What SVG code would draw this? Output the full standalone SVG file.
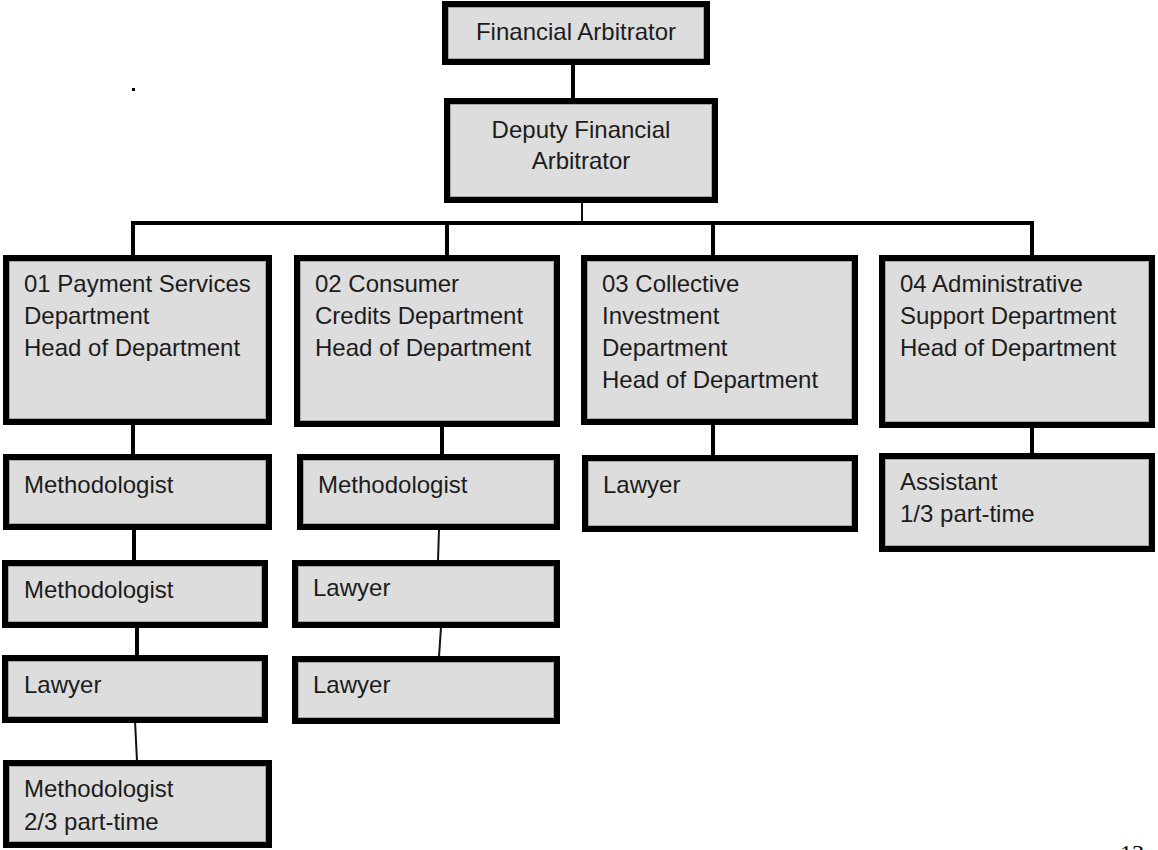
<svg xmlns="http://www.w3.org/2000/svg" width="1158" height="850" viewBox="0 0 1158 850">
<style>
.b{fill:#dddddd;stroke:#000;stroke-width:6}
.i{fill:none;stroke:#a6a6a6;stroke-width:1}
.t{font-family:"Liberation Sans",Arial,sans-serif;font-size:24px;fill:#1c1c1c}
.c{text-anchor:middle}
.k{stroke:#000;stroke-width:4;fill:none}
.h{stroke:#111;stroke-width:2;fill:none}
</style>
<rect width="1158" height="850" fill="#fff"/>
<g id="connectors">
<line class="k" x1="573" y1="64" x2="573" y2="99"/>
<line class="h" x1="582" y1="202" x2="582" y2="223"/>
<line class="k" x1="131" y1="223" x2="1034" y2="223"/>
<line class="k" x1="133" y1="221" x2="133" y2="256"/>
<line class="k" x1="447" y1="221" x2="447" y2="256"/>
<line class="k" x1="713" y1="221" x2="713" y2="256"/>
<line class="k" x1="1032" y1="221" x2="1032" y2="256"/>
<line class="k" x1="133" y1="424" x2="133" y2="455"/>
<line class="k" x1="134" y1="529" x2="134" y2="561"/>
<line class="k" x1="137" y1="624" x2="137" y2="656"/>
<line class="h" x1="135" y1="721" x2="137" y2="761"/>
<line class="k" x1="442" y1="426" x2="442" y2="455"/>
<line class="h" x1="439" y1="529" x2="438" y2="561"/>
<line class="h" x1="441" y1="627" x2="439" y2="657"/>
<line class="k" x1="713" y1="424" x2="713" y2="456"/>
<line class="k" x1="1032" y1="427" x2="1032" y2="454"/>
</g>
<g id="n-fa"><rect class="b" x="445" y="4" width="262" height="58"/><rect class="i" x="448.5" y="7.5" width="255" height="51"/><text class="t c" x="576" y="40">Financial Arbitrator</text></g>
<g id="n-deputy"><rect class="b" x="447" y="101" width="268" height="99"/><rect class="i" x="450.5" y="104.5" width="261" height="92"/><text class="t c" x="581" y="138">Deputy Financial</text><text class="t c" x="581" y="169">Arbitrator</text></g>
<g id="n-01"><rect class="b" x="6" y="258" width="263" height="164"/><rect class="i" x="9.5" y="261.5" width="256" height="157"/><text class="t" x="24" y="292">01 Payment Services</text><text class="t" x="24" y="324">Department</text><text class="t" x="24" y="356">Head of Department</text></g>
<g id="n-02"><rect class="b" x="297" y="258" width="260" height="166"/><rect class="i" x="300.5" y="261.5" width="253" height="159"/><text class="t" x="315" y="292">02 Consumer</text><text class="t" x="315" y="324">Credits Department</text><text class="t" x="315" y="356">Head of Department</text></g>
<g id="n-03"><rect class="b" x="584" y="258" width="271" height="164"/><rect class="i" x="587.5" y="261.5" width="264" height="157"/><text class="t" x="602" y="292">03 Collective</text><text class="t" x="602" y="324">Investment</text><text class="t" x="602" y="356">Department</text><text class="t" x="602" y="388">Head of Department</text></g>
<g id="n-04"><rect class="b" x="882" y="258" width="270" height="167"/><rect class="i" x="885.5" y="261.5" width="263" height="160"/><text class="t" x="900" y="292">04 Administrative</text><text class="t" x="900" y="324">Support Department</text><text class="t" x="900" y="356">Head of Department</text></g>
<g id="n-01-m1"><rect class="b" x="6" y="457" width="263" height="70"/><rect class="i" x="9.5" y="460.5" width="256" height="63"/><text class="t" x="24" y="493">Methodologist</text></g>
<g id="n-01-m2"><rect class="b" x="5" y="563" width="260" height="62"/><rect class="i" x="8.5" y="566.5" width="253" height="55"/><text class="t" x="24" y="598">Methodologist</text></g>
<g id="n-01-l"><rect class="b" x="5" y="658" width="260" height="62"/><rect class="i" x="8.5" y="661.5" width="253" height="55"/><text class="t" x="24" y="693">Lawyer</text></g>
<g id="n-01-m3"><rect class="b" x="6" y="763" width="263" height="82"/><rect class="i" x="9.5" y="766.5" width="256" height="75"/><text class="t" x="24" y="797">Methodologist</text><text class="t" x="24" y="830">2/3 part-time</text></g>
<g id="n-02-m"><rect class="b" x="300" y="457" width="257" height="70"/><rect class="i" x="303.5" y="460.5" width="250" height="63"/><text class="t" x="318" y="493">Methodologist</text></g>
<g id="n-02-l1"><rect class="b" x="295" y="563" width="262" height="62"/><rect class="i" x="298.5" y="566.5" width="255" height="55"/><text class="t" x="313" y="596">Lawyer</text></g>
<g id="n-02-l2"><rect class="b" x="295" y="659" width="262" height="62"/><rect class="i" x="298.5" y="662.5" width="255" height="55"/><text class="t" x="313" y="693">Lawyer</text></g>
<g id="n-03-l"><rect class="b" x="585" y="458" width="270" height="71"/><rect class="i" x="588.5" y="461.5" width="263" height="64"/><text class="t" x="603" y="493">Lawyer</text></g>
<g id="n-04-a"><rect class="b" x="882" y="456" width="270" height="93"/><rect class="i" x="885.5" y="459.5" width="263" height="86"/><text class="t" x="900" y="490">Assistant</text><text class="t" x="900" y="522">1/3 part-time</text></g>
<rect x="132" y="88" width="3" height="3" fill="#000"/>
<text x="1120" y="861" style="font-family:'Liberation Serif','Times New Roman',serif;font-size:24px;fill:#000">13</text>
</svg>
